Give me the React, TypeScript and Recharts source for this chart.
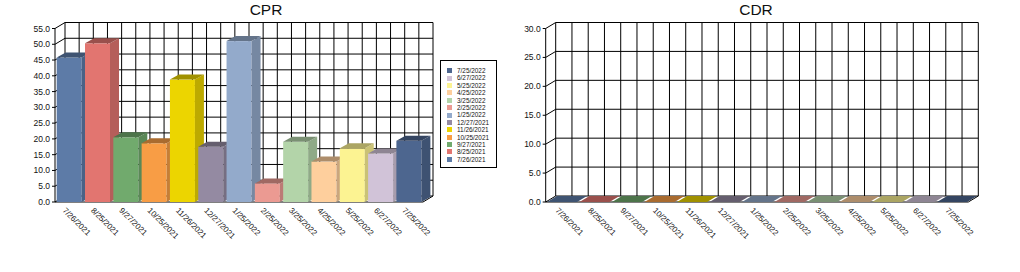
import { BarChart, Bar, XAxis, YAxis, CartesianGrid } from "recharts";

const dates = [
  "7/26/2021", "8/25/2021", "9/27/2021", "10/25/2021", "11/26/2021", "12/27/2021",
  "1/25/2022", "2/25/2022", "3/25/2022", "4/25/2022", "5/25/2022", "6/27/2022", "7/25/2022",
];
const cprValues = [45.8, 50.3, 20.5, 18.6, 38.8, 17.5, 51.0, 5.9, 19.1, 12.8, 17.0, 15.4, 19.4];
const cdrValues = [0, 0, 0, 0, 0, 0, 0, 0, 0, 0, 0, 0, 0];
const cprTicks = [0, 5, 10, 15, 20, 25, 30, 35, 40, 45, 50, 55];
const cdrTicks = [0, 5, 10, 15, 20, 25, 30];
const barColors = [
  "#5d7ba7", "#e27570", "#71aa6d", "#f89d45", "#ecd500", "#948aa2", "#93aacb",
  "#eb9a92", "#b3d4a9", "#fecf9d", "#fcf392", "#d1c3d8", "#4d668f",
];

const FONT = '"Liberation Sans", Arial, sans-serif';
const WALL_DX = 10;
const WALL_DY = 6;
const PLOT_TOP = 28.5;
const PLOT_BOTTOM = 202;
const H = 272;

function shade(hex: string, f: number) {
  const n = parseInt(hex.slice(1), 16);
  const r = Math.round(((n >> 16) & 255) * f);
  const g = Math.round(((n >> 8) & 255) * f);
  const b = Math.round((n & 255) * f);
  return `rgb(${r},${g},${b})`;
}

const cprData = dates.map((d, i) => ({ date: d, v: cprValues[i] }));
const cdrData = dates.map((d, i) => ({ date: d, v: cdrValues[i] }));

const Box3D = (props: any) => {
  const { x, y, width, height, index, dx, dy } = props;
  const c = barColors[index % barColors.length];
  const w = width;
  const h = Math.max(height, 0);
  return (
    <g>
      {h > 0 && <rect x={x} y={y} width={w} height={h} fill={c} />}
      {h > 0 && (
        <polygon
          points={`${x + w},${y} ${x + w + dx},${y - dy} ${x + w + dx},${y + h - dy} ${x + w},${y + h}`}
          fill={shade(c, 0.8)}
        />
      )}
      <polygon
        points={`${x},${y} ${x + dx},${y - dy} ${x + w + dx},${y - dy} ${x + w},${y}`}
        fill={shade(c, 0.68)}
      />
    </g>
  );
};

const wallH = (props: any) => {
  const { x1, x2, y1 } = props;
  const bottom = Math.abs(y1 - PLOT_BOTTOM) < 0.6;
  return (
    <g key={`h-${y1}`} stroke="#000" strokeWidth={1}>
      <line x1={x1 + WALL_DX} y1={y1 - WALL_DY} x2={x2 + WALL_DX} y2={y1 - WALL_DY} />
      <line x1={x1} y1={y1} x2={x1 + WALL_DX} y2={y1 - WALL_DY} />
      {bottom && <line x1={x1} y1={y1} x2={x2} y2={y1} />}
      {bottom && <line x1={x2} y1={y1} x2={x2 + WALL_DX} y2={y1 - WALL_DY} />}
    </g>
  );
};

const wallV = (props: any) => (
  <line
    key={`v-${props.x1}`}
    x1={props.x1 + WALL_DX}
    y1={props.y1 - WALL_DY}
    x2={props.x2 + WALL_DX}
    y2={props.y2 - WALL_DY}
    stroke="#000"
    strokeWidth={1}
  />
);

const halfCats = ({ offset }: any) => {
  const n = dates.length * 2;
  return Array.from({ length: n + 1 }, (_, i) => offset.left + (i * offset.width) / n);
};

const DateTick = ({ x, y, payload }: any) => {
  const tx = x - 7;
  const ty = y + 9;
  return (
    <text
      x={tx}
      y={ty}
      transform={`rotate(45, ${tx}, ${ty})`}
      textAnchor="start"
      fontSize={8}
      fontFamily={FONT}
      fill="#111"
    >
      {payload.value}
    </text>
  );
};

function Panel3D({ data, ticks, max, left, width, plotLeft, plotRight, gap, dx, dy }: any) {
  return (
    <div style={{ position: "absolute", left, top: 0 }}>
      <BarChart
        width={width}
        height={H}
        data={data}
        barCategoryGap={gap}
        margin={{ top: PLOT_TOP, right: width - plotRight, left: plotLeft - 40, bottom: H - PLOT_BOTTOM - 40 }}
      >
        <CartesianGrid
          horizontal={wallH}
          vertical={wallV}
          verticalCoordinatesGenerator={halfCats}
          stroke="#000"
        />
        <XAxis
          dataKey="date"
          height={40}
          interval={0}
          axisLine={false}
          tickLine={false}
          tickSize={0}
          tickMargin={0}
          tick={<DateTick />}
        />
        <YAxis
          width={40}
          domain={[0, max]}
          ticks={ticks}
          interval={0}
          tickFormatter={(v: number) => v.toFixed(1)}
          tick={{ fontSize: 8.5, fontFamily: FONT, fill: "#111" }}
          tickSize={3}
          tickMargin={2}
          axisLine={{ stroke: "#000" }}
          tickLine={{ stroke: "#000" }}
        />
        <Bar
          dataKey="v"
          isAnimationActive={false}
          shape={(p: any) => <Box3D {...p} dx={dx} dy={dy} />}
        />
      </BarChart>
    </div>
  );
}

export default function App() {
  const legendItems = dates.map((d, i) => ({ d, c: barColors[i] })).reverse();
  return (
    <div style={{ position: "absolute", left: 0, top: 0, width: 1020, height: H, background: "#fff", fontFamily: FONT }}>
      <div style={{ position: "absolute", left: 266, top: 10, transform: "translate(-50%, -50%)", fontSize: 15.5, color: "#111" }}>
        CPR
      </div>
      <div style={{ position: "absolute", left: 756, top: 10, transform: "translate(-50%, -50%)", fontSize: 15.5, color: "#111" }}>
        CDR
      </div>
      <Panel3D data={cprData} ticks={cprTicks} max={55} left={0} width={500} plotLeft={55} plotRight={423} gap="6%" dx={9} dy={5} />
      <Panel3D data={cdrData} ticks={cdrTicks} max={30} left={500} width={520} plotLeft={45.7} plotRight={468.3} gap="4%" dx={WALL_DX} dy={WALL_DY} />
      <div
        style={{
          position: "absolute",
          left: 440,
          top: 60,
          width: 57,
          height: 108,
          border: "1px solid #000",
          boxSizing: "border-box",
          padding: "6px 0 0 6px",
        }}
      >
        {legendItems.map((it) => (
          <div key={it.d} style={{ display: "flex", alignItems: "center", height: 7.4, fontSize: 6.4, lineHeight: "7.4px", color: "#111" }}>
            <span style={{ display: "inline-block", width: 5, height: 5, background: it.c, marginRight: 5 }} />
            {it.d}
          </div>
        ))}
      </div>
    </div>
  );
}
